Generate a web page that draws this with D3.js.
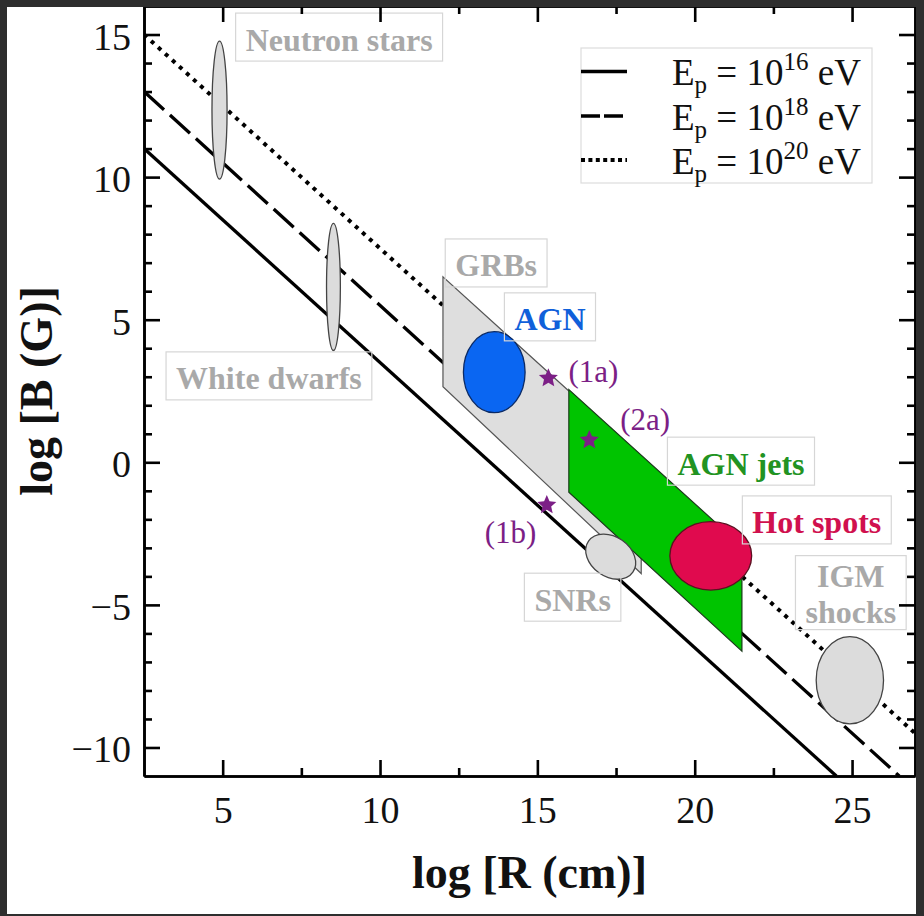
<!DOCTYPE html>
<html>
<head>
<meta charset="utf-8">
<script src="https://cdn.jsdelivr.net/npm/d3@7"></script>
<style>
  html, body { margin: 0; padding: 0; background: #2e2e2e; }
  svg { display: block; }
  text { font-family: "Liberation Serif", "Times New Roman", serif; }
</style>
</head>
<body>
<svg id="chart" width="924" height="916"></svg>
<script>
// Hillas lines: log B versus log R for three proton energies
const lineEnergies = ["16", "18", "20"];
const lineStarts = [[2.5, 11], [2.5, 13], [2.5, 15]];
const lineEnds = [[24.5, -11], [26.5, -11], [27, -9.5]];

// Source classes shown as ellipses (centre and half-extent, in log units)
const ellipseNames = ["Neutron stars", "White dwarfs", "AGN", "SNRs", "Hot spots", "IGM shocks"];
const ellipseCx = [4.90, 8.52, 13.63, 17.33, 20.51, 24.93];
const ellipseCy = [12.35, 6.15, 3.16, -3.31, -3.28, -7.64];
const ellipseRx = [0.24, 0.22, 0.98, 0.86, 1.30, 1.07];
const ellipseRy = [2.42, 2.23, 1.42, 0.70, 1.20, 1.53];

// Source classes shown as bands (log R, log B vertices)
const grbRegion = [[12, 6.5], [12, 2.65], [18.3, -3.9], [18.3, 0.2]];
const jetRegion = [[16, 2.55], [16, -1.05], [21.5, -6.62], [21.5, -2.95]];

// Individual sources
const starNames = ["(1a)", "(2a)", "(1b)"];
const starR = [15.35, 16.65, 15.30];
const starB = [2.95, 0.78, -1.50];

// Class labels and the point (log R, log B) each label box is centred on
const labelNames = ["Neutron stars", "White dwarfs", "GRBs", "AGN", "AGN jets", "Hot spots", "SNRs", "IGM shocks"];
const labelR = [8.70, 6.47, 13.69, 15.40, 21.47, 23.88, 16.12, 24.96];
const labelB = [14.91, 3.03, 6.99, 5.10, 0.04, -2.02, -4.73, -4.57];

// Axis ticks
const xMajor = [5, 10, 15, 20, 25];
const xMinor = [7.5, 12.5, 17.5, 22.5];
const yMajor = [-10, -5, 0, 5, 10, 15];
const yMinor = [-9, -8, -7, -6, -4, -3, -2, -1, 1, 2, 3, 4, 6, 7, 8, 9, 11, 12, 13, 14];

// ---- styles ----
const lineDash = ["none", "27,8", "4,5.5"];
const legendDash = ["none", "19,4", "4,3.4"];
const ellipseFill = {
  "Neutron stars": "#dcdcdc", "White dwarfs": "#dcdcdc", "AGN": "#0a66f2",
  "SNRs": "#dcdcdc", "Hot spots": "#e00a4e", "IGM shocks": "#dcdcdc"
};
const ellipseStroke = {
  "Neutron stars": "#444", "White dwarfs": "#444", "AGN": "#0a2a66",
  "SNRs": "#444", "Hot spots": "#5a1020", "IGM shocks": "#444"
};
const ellipseTilt = { "SNRs": 35 };
const labelColor = {
  "Neutron stars": "#a9a9a9", "White dwarfs": "#a9a9a9", "GRBs": "#a9a9a9",
  "AGN": "#1060da", "AGN jets": "#229322", "Hot spots": "#d0104e",
  "SNRs": "#a9a9a9", "IGM shocks": "#a9a9a9"
};
const starLabelOffset = [[20, 3.5], [31, -10], [-62, 38]];
const purple = "#7c1f86";

const svg = d3.select("#chart");
const x = d3.scaleLinear().domain([2.5, 27]).range([144, 915]);
const y = d3.scaleLinear().domain([-11, 16]).range([776, 6]);

svg.append("rect").attr("x", 0).attr("y", 0).attr("width", 924).attr("height", 916).attr("fill", "#fff");

// ---- Hillas lines ----
const plot = svg.append("g");
plot.append("defs").append("clipPath").attr("id", "plotClip")
  .append("rect").attr("x", 144).attr("y", 6).attr("width", 771).attr("height", 770);

const lineGen = d3.line().x(d => x(d[0])).y(d => y(d[1]));
plot.append("g").attr("clip-path", "url(#plotClip)")
  .selectAll("path").data(lineEnergies).join("path")
  .attr("d", (d, i) => lineGen([lineStarts[i], lineEnds[i]]))
  .attr("fill", "none").attr("stroke", "#000")
  .attr("stroke-width", (d, i) => i === 2 ? 4 : 3.3)
  .attr("stroke-dasharray", (d, i) => lineDash[i]);

// ---- bands ----
const polyGen = d3.line().x(d => x(d[0])).y(d => y(d[1])).curve(d3.curveLinearClosed);
plot.append("path").attr("d", polyGen(grbRegion))
  .attr("fill", "#dedede").attr("stroke", "#555").attr("stroke-width", 1.2);
plot.append("path").attr("d", polyGen(jetRegion))
  .attr("fill", "#00c400").attr("stroke", "#1a3a1a").attr("stroke-width", 1.2);

// ---- ellipses ----
plot.selectAll("ellipse").data(ellipseNames).join("ellipse")
  .attr("transform", (d, i) => `translate(${x(ellipseCx[i])},${y(ellipseCy[i])}) rotate(${ellipseTilt[d] || 0})`)
  .attr("rx", (d, i) => x(ellipseCx[i] + ellipseRx[i]) - x(ellipseCx[i]))
  .attr("ry", (d, i) => y(ellipseCy[i] - ellipseRy[i]) - y(ellipseCy[i]))
  .attr("fill", d => ellipseFill[d])
  .attr("stroke", d => ellipseStroke[d])
  .attr("stroke-width", 1.3);

// ---- labels ----
const labels = svg.append("g");
labelNames.forEach((name, i) => {
  const cx = x(labelR[i]), cy = y(labelB[i]);
  const g = labels.append("g");
  const lines = name === "IGM shocks" ? ["IGM", "shocks"] : [name];
  const h = lines.length === 1 ? 48 : 74;
  const rect = g.append("rect").attr("fill", "none").attr("stroke", "#d6d6d6").attr("stroke-width", 1.2);
  const t = g.append("text").attr("text-anchor", "middle")
    .attr("font-size", 32).attr("font-weight", "bold").attr("fill", labelColor[name]);
  lines.forEach((ln, k) => {
    t.append("tspan").attr("x", cx)
      .attr("y", lines.length === 1 ? cy + 13.5 : cy - h / 2 + 31 + k * 36)
      .text(ln);
  });
  const bb = t.node().getBBox();
  const w = bb.width + 20;
  rect.attr("x", cx - w / 2).attr("y", cy - h / 2).attr("width", w).attr("height", h);
});

// ---- individual sources (five-pointed stars) ----
const starPoints = d3.range(10).map(k => [k * Math.PI / 5, k % 2 === 0 ? 10 : 4.6]);
const starPath = d3.lineRadial().curve(d3.curveLinearClosed)(starPoints);
const stars = svg.append("g");
stars.selectAll("path").data(starNames).join("path")
  .attr("transform", (d, i) => `translate(${x(starR[i])},${y(starB[i])})`)
  .attr("d", starPath).attr("fill", purple);
stars.selectAll("text").data(starNames).join("text")
  .attr("x", (d, i) => x(starR[i]) + starLabelOffset[i][0])
  .attr("y", (d, i) => y(starB[i]) + starLabelOffset[i][1])
  .attr("font-size", 31).attr("fill", purple)
  .text(d => d);

// ---- axes ----
function styleAxis(g) {
  g.select(".domain").attr("stroke", "#000").attr("stroke-width", 2.6);
  g.selectAll(".tick line").attr("stroke", "#000").attr("stroke-width", 2.6);
  g.selectAll(".tick text").attr("font-family", "Liberation Serif, serif").attr("font-size", 38).attr("fill", "#111");
}
const axBottom = svg.append("g").attr("transform", "translate(0,776)")
  .call(d3.axisBottom(x).tickValues(xMajor).tickSizeInner(-16).tickSizeOuter(0));
axBottom.call(styleAxis);
axBottom.selectAll(".tick text").attr("y", 47).attr("dy", null);
svg.append("g").attr("transform", "translate(0,776)")
  .call(d3.axisBottom(x).tickValues(xMinor).tickSizeInner(-8).tickSizeOuter(0).tickFormat(""))
  .call(styleAxis);

const axLeft = svg.append("g").attr("transform", "translate(144,0)")
  .call(d3.axisLeft(y).tickValues(yMajor).tickSizeInner(-16).tickSizeOuter(0).tickPadding(13));
axLeft.call(styleAxis);
axLeft.selectAll(".tick text").attr("dy", 14.5);
svg.append("g").attr("transform", "translate(144,0)")
  .call(d3.axisLeft(y).tickValues(yMinor).tickSizeInner(-8).tickSizeOuter(0).tickFormat(""))
  .call(styleAxis);

svg.append("g").attr("transform", "translate(0,6)")
  .call(d3.axisTop(x).tickValues(xMajor).tickSizeInner(-16).tickSizeOuter(0).tickFormat(""))
  .call(styleAxis);
svg.append("g").attr("transform", "translate(0,6)")
  .call(d3.axisTop(x).tickValues(xMinor).tickSizeInner(-8).tickSizeOuter(0).tickFormat(""))
  .call(styleAxis);
svg.append("g").attr("transform", "translate(915,0)")
  .call(d3.axisRight(y).tickValues(yMajor).tickSizeInner(-16).tickSizeOuter(0).tickFormat(""))
  .call(styleAxis);
svg.append("g").attr("transform", "translate(915,0)")
  .call(d3.axisRight(y).tickValues(yMinor).tickSizeInner(-8).tickSizeOuter(0).tickFormat(""))
  .call(styleAxis);

// axis titles
svg.append("text").attr("x", 529.5).attr("y", 888).attr("text-anchor", "middle")
  .attr("font-size", 46).attr("font-weight", "bold").attr("fill", "#111")
  .text("log [R (cm)]");
svg.append("text").attr("transform", "translate(52,391) rotate(-90)").attr("text-anchor", "middle")
  .attr("font-size", 46).attr("font-weight", "bold").attr("fill", "#111")
  .text("log [B (G)]");

// ---- legend ----
const legend = svg.append("g");
legend.append("rect").attr("x", 581).attr("y", 48).attr("width", 291).attr("height", 135)
  .attr("fill", "#fff").attr("stroke", "#dcdcdc").attr("stroke-width", 1.2);
const legendRowY = [71.5, 116, 160];
lineEnergies.forEach((e, i) => {
  legend.append("line").attr("x1", 581).attr("x2", 627)
    .attr("y1", legendRowY[i]).attr("y2", legendRowY[i])
    .attr("stroke", "#000").attr("stroke-width", i === 2 ? 4 : 3.3)
    .attr("stroke-dasharray", legendDash[i]);
  const t = legend.append("text").attr("x", 672).attr("y", legendRowY[i] + 13.5)
    .attr("font-size", 37).attr("fill", "#111");
  t.append("tspan").text("E");
  t.append("tspan").attr("font-size", 25).attr("dy", 8).text("p");
  t.append("tspan").attr("dy", -8).text(" = 10");
  t.append("tspan").attr("font-size", 25).attr("dy", -15).text(e);
  t.append("tspan").attr("dy", 15).text(" eV");
});

// ---- dark surround ----
const frame = svg.append("g").attr("fill", "#2e2e2e");
frame.append("rect").attr("x", 0).attr("y", 0).attr("width", 924).attr("height", 7);
frame.append("rect").attr("x", 0).attr("y", 0).attr("width", 7).attr("height", 916);
frame.append("rect").attr("x", 916).attr("y", 0).attr("width", 8).attr("height", 916);
frame.append("rect").attr("x", 0).attr("y", 914).attr("width", 924).attr("height", 2);
</script>
</body>
</html>
